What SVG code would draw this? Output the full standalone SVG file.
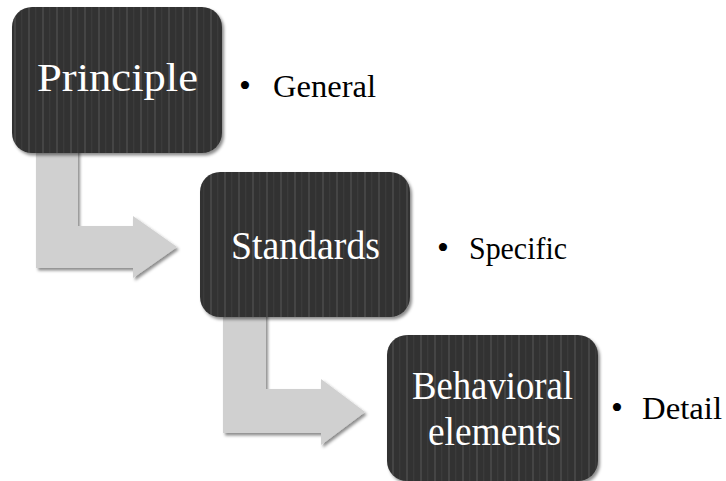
<svg xmlns="http://www.w3.org/2000/svg" width="726" height="481" viewBox="0 0 726 481">
  <defs>
    <!-- fine vertical pinstripe fill for the dark boxes -->
    <pattern id="stripes" width="14" height="10" patternUnits="userSpaceOnUse">
      <rect width="14" height="10" fill="#323232"/>
      <rect x="0" width="2" height="10" fill="#444444"/>
      <rect x="7" width="1.5" height="10" fill="#3a3a3a"/>
    </pattern>
    <filter id="shadow" x="-10%" y="-10%" width="125%" height="125%">
      <feDropShadow dx="2" dy="2.5" stdDeviation="1.8" flood-color="#000" flood-opacity="0.45"/>
    </filter>
  </defs>
  <style>
    .box { fill: url(#stripes); filter: url(#shadow); }
    .arrow { fill: #d0d0d0; filter: url(#shadow); }
    .label { font-family: "Liberation Serif", "Times New Roman", serif; font-size: 41px; fill: #ffffff; }
    .bullet { font-family: "Liberation Serif", "Times New Roman", serif; font-size: 31px; fill: #000000; }
    .dot { font-size: 34px; }
  </style>

  <rect width="726" height="481" fill="#ffffff"/>

  <!-- bent arrows linking each level to the next -->
  <g id="connectors">
    <path class="arrow" d="M36,140 L78,140 L78,226 L133,226 L133,216 L177,247 L133,278 L133,268 L36,268 Z"/>
    <path class="arrow" d="M223,305 L266,305 L266,389 L321,389 L321,379 L365,412 L321,445 L321,433 L223,433 Z"/>
  </g>

  <g id="principle">
    <rect class="box" x="12" y="7" width="210" height="146" rx="20" ry="20"/>
    <text class="label" x="37" y="91" textLength="161" lengthAdjust="spacingAndGlyphs">Principle</text>
    <text class="bullet" y="97"><tspan class="dot" x="239">•</tspan><tspan x="273" textLength="103" lengthAdjust="spacingAndGlyphs">General</tspan></text>
  </g>

  <g id="standards">
    <rect class="box" x="200" y="172" width="210" height="145" rx="20" ry="20"/>
    <text class="label" x="231" y="259" textLength="149" lengthAdjust="spacingAndGlyphs">Standards</text>
    <text class="bullet" y="259"><tspan class="dot" x="437">•</tspan><tspan x="469" textLength="98" lengthAdjust="spacingAndGlyphs">Specific</tspan></text>
  </g>

  <g id="behavioral-elements">
    <rect class="box" x="387" y="335" width="211" height="146" rx="20" ry="20"/>
    <text class="label" x="412" y="399" textLength="161" lengthAdjust="spacingAndGlyphs">Behavioral</text>
    <text class="label" x="428" y="445" textLength="133" lengthAdjust="spacingAndGlyphs">elements</text>
    <text class="bullet" y="419"><tspan class="dot" x="611">•</tspan><tspan x="642" textLength="80" lengthAdjust="spacingAndGlyphs">Detail</tspan></text>
  </g>
</svg>
